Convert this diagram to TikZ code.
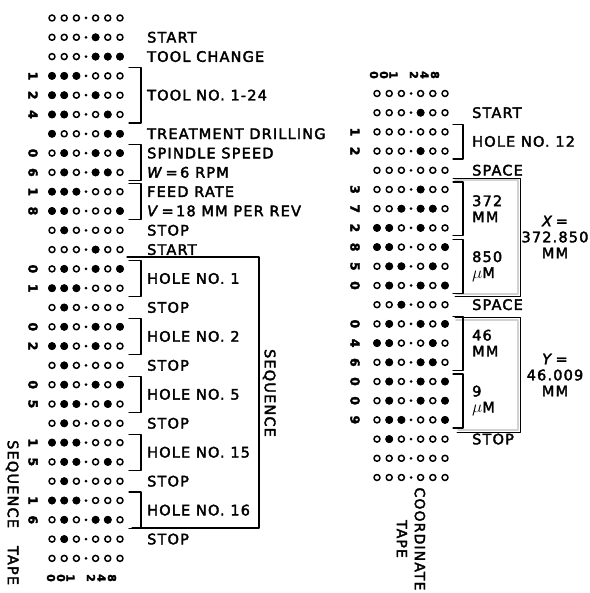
\documentclass[tikz,border=0pt]{standalone}
\usepackage{fontspec}
\setmainfont{DejaVu Sans}[LetterSpace=8, FakeBold=2.5]
\usepackage{tikz}
\usetikzlibrary{positioning}

\tikzset{
    lbl/.style={anchor=west, inner sep=0pt, text height=10.5pt, text depth=0pt,
        font=\fontsize{14.5}{16}\selectfont},
    lblpair/.style={anchor=west, inner sep=0pt, align=left, font=\fontsize{14.5}{16}\selectfont},
    val/.style={inner sep=0pt, align=center, font=\fontsize{14.5}{16}\selectfont},
    tapetitle/.style={rotate=-90, inner sep=0pt, text height=10.5pt, text depth=0pt,
        font=\fontsize{14.5}{18}\selectfont},
    coordtitle/.style={rotate=-90, inner sep=0pt, align=center, font=\fontsize{14}{18}\selectfont},
    digit/.style={rotate=-90, inner sep=0pt, font=\fontsize{12.5}{12.5}\selectfont\bfseries},
    chan/.style={rotate=-90, inner sep=0pt, font=\fontsize{11}{11}\selectfont\bfseries},
    brk/.style={line width=1.2pt},
    openhole/.style={line width=1.5pt},
}
\newcommand{\um}{{\fontsize{19}{16}\selectfont$\mu$}M}

\begin{document}
\begin{tikzpicture}[x=1pt, y=-1pt, line cap=round, line join=round]
    \useasboundingbox (0,0) rectangle (589,593);

    % Sequence tape (punched channels per row, 0 = none)
    \foreach \r/\h in {0/{0}, 1/{4}, 2/{4,5,6}, 3/{1,2,3}, 4/{1,2,4}, 5/{1,2,5},
        6/{1,5,6}, 7/{2,4,6}, 8/{2,4,5}, 9/{1,2,3}, 10/{1,2,6}, 11/{2}, 12/{4},
        13/{2,4,6}, 14/{1,2,3}, 15/{2}, 16/{2,4,6}, 17/{1,2,4}, 18/{2},
        19/{2,4,6}, 20/{2,3,5}, 21/{2}, 22/{1,2,3}, 23/{2,3,5}, 24/{2},
        25/{1,2,3}, 26/{2,4,5}, 27/{2}, 28/{0}}{
        \pgfmathsetmacro\y{18+19.3*\r}
        \coordinate (sq-\r) at (52,\y);
        \foreach \dx in {0,12.2,24.4,43.6,55.8,68}
            \draw[openhole] (52+\dx,\y) circle (3pt);
        \fill (86,\y) circle (1.5pt);
        \foreach \k in \h {
            \ifnum\k>0
                \pgfmathsetmacro\dx{\k<4 ? (\k-1)*12.2 : 43.6+(\k-4)*12.2}
                \fill (52+\dx,\y) circle (4pt);
            \fi
        }
    }

    % Coordinate tape
    \foreach \r/\h in {0/{0}, 1/{4}, 2/{0}, 3/{4}, 4/{0}, 5/{4}, 6/{3,4,5},
        7/{1,2,4}, 8/{1,2,6}, 9/{2,3,5}, 10/{2,4,6}, 11/{3}, 12/{2,4,6},
        13/{1,2,5}, 14/{2,4,5}, 15/{2,4,6}, 16/{2,4,6}, 17/{2,3,6}, 18/{2},
        19/{0}, 20/{0}}{
        \pgfmathsetmacro\y{93.5+19.2*\r}
        \coordinate (ct-\r) at (377,\y);
        \foreach \dx in {0,12.2,24.4,43.6,55.8,68}
            \draw[openhole] (377+\dx,\y) circle (3pt);
        \fill (411,\y) circle (1.5pt);
        \foreach \k in \h {
            \ifnum\k>0
                \pgfmathsetmacro\dx{\k<4 ? (\k-1)*12.2 : 43.6+(\k-4)*12.2}
                \fill (377+\dx,\y) circle (4pt);
            \fi
        }
    }

    % Channel numbers
    \foreach \dx/\d [count=\i] in {-1/0, 9/0, 18.5/1, 39/2, 49.5/4, 60/8}{
        \node[chan] (sch-\i) at (52+\dx,578) {\d};
        \node[chan] (cch-\i) at (375+\dx,75) {\d};
    }

    % Digits read off each row
    \foreach \r/\d in {3/1, 4/2, 5/4, 7/0, 8/6, 9/1, 10/8, 13/0, 14/1, 16/0,
        17/2, 19/0, 20/5, 22/1, 23/5, 25/1, 26/6}
        \node[digit] (sd-\r) at ([xshift=-19pt]sq-\r) {\d};
    \foreach \r/\d in {2/1, 3/2, 5/3, 6/7, 7/2, 8/8, 9/5, 10/0, 12/0, 13/4,
        14/6, 15/0, 16/0, 17/9}
        \node[digit] (cd-\r) at ([xshift=-22pt]ct-\r) {\d};

    % Sequence tape labels
    \node[lbl, right=95pt of sq-1] (start-a) {START};
    \node[lbl, right=95pt of sq-2] (tool-change) {TOOL CHANGE};
    \node[lbl, right=95pt of sq-4] (tool-no) {TOOL NO. 1-24};
    \node[lbl, right=95pt of sq-6] (treatment) {TREATMENT DRILLING};
    \node[lbl, right=95pt of sq-7] (spindle) {SPINDLE SPEED};
    \node[lbl, right=95pt of sq-8] (rpm) {\textit{W}\,=\,6 RPM};
    \node[lbl, right=95pt of sq-9] (feed) {FEED RATE};
    \node[lbl, right=95pt of sq-10] (per-rev) {\textit{V}\,=\,18 MM PER REV};
    \node[lbl, right=95pt of sq-12] (start-b) {START};
    \foreach \r in {11,15,18,21,24,27}
        \node[lbl, right=95pt of sq-\r] (stop-\r) {STOP};
    \foreach \r/\n in {13/1, 16/2, 19/5, 22/15, 25/16}
        \node[lbl, right=95pt of sq-\r, yshift=-9.65pt] (hole-\n) {HOLE NO. \n};

    % Sequence tape brackets
    \foreach \a/\b in {3/5, 7/8, 9/10, 13/14, 16/17, 19/20, 22/23, 25/26}
        \draw[brk] (129,{18+19.3*\a-8.5}) -| (141,{18+19.3*\b+8.5}) -- (129,{18+19.3*\b+8.5});
    \draw[brk] (127,257) -| (259,528) -- (132,528);
    \node[tapetitle] (seq-label) at (270,393) {SEQUENCE};
    \node[tapetitle, anchor=west] (seq-tape) at (13,440) {SEQUENCE\hspace{18pt}TAPE};

    % Coordinate boxes
    \draw[gray!35, line width=2pt] (455,180.5) -| (517.5,293.5) -- (456,293.5);
    \draw[gray!35, line width=2pt] (456,319.5) -| (517.5,429.5) -- (458,429.5);
    \draw[line width=0.9pt] (453,178) -| (520,296) -- (455,296);
    \draw[line width=0.9pt] (455,317) -| (520,432) -- (457,432);

    % Coordinate tape brackets
    \foreach \a/\b in {2/3, 5/7, 8/10, 12/14, 15/17}
        \draw[brk] (453,{93.5+19.2*\a-7.5}) -| (463,{93.5+19.2*\b+8}) -- (453,{93.5+19.2*\b+8});

    % Coordinate tape labels
    \node[lbl, right=95pt of ct-1] (start-c) {START};
    \node[lbl, right=95pt of ct-2, yshift=-9.6pt] (hole-12) {HOLE NO. 12};
    \node[lbl, right=95pt of ct-4] (space-a) {SPACE};
    \node[lbl, right=95pt of ct-11] (space-b) {SPACE};
    \node[lbl, right=95pt of ct-18] (stop-c) {STOP};
    \node[lblpair, right=95pt of ct-6] (x-mm) {372\\MM};
    \node[lblpair, right=95pt of ct-9] (x-um) {850\\\um};
    \node[lblpair, right=95pt of ct-13] (y-mm) {46\\MM};
    \node[lblpair, right=95pt of ct-16] (y-um) {9\\\um};
    \node[val] (x-val) at (555,237) {\textit{X}\,=\\372.850\\MM};
    \node[val] (y-val) at (555,375) {\textit{Y}\,=\\46.009\\MM};
    \node[coordtitle] (coord-tape) at (411,539) {COORDINATE\\TAPE};
\end{tikzpicture}
\end{document}
